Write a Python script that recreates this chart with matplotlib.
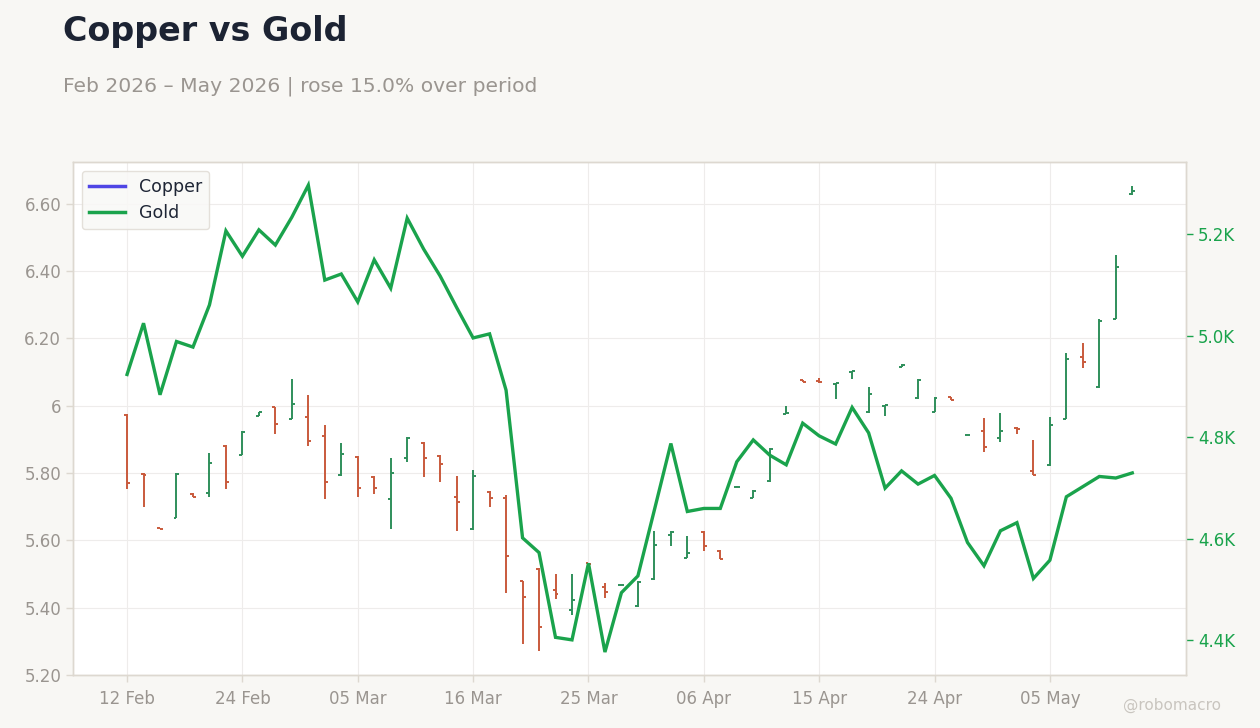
import matplotlib
matplotlib.use("Agg")
import matplotlib.pyplot as plt
from matplotlib.lines import Line2D
from matplotlib.ticker import FuncFormatter, FixedLocator
import numpy as np

# ---------------- data ----------------
copper_open = [5.973, 5.797, 5.636, 5.667, 5.738, 5.742, 5.881, 5.854, 5.970, 5.995,
               5.962, 5.968, 5.910, 5.793, 5.849, 5.788, 5.724, 5.846, 5.889, 5.852,
               5.730, 5.633, 5.743, 5.725, 5.479, 5.515, 5.453, 5.393, 5.532, 5.462,
               5.467, 5.405, 5.484, 5.616, 5.549, 5.626, 5.569, 5.760, 5.727, 5.776,
               5.977, 6.077, 6.075, 6.066, 6.101, 5.982, 5.999, 6.114, 6.023, 5.982,
               6.025, 5.913, 5.926, 5.905, 5.935, 5.807, 5.823, 5.962, 6.146, 6.055,
               6.259, 6.628]
copper_high = [5.975, 5.799, 5.637, 5.799, 5.740, 5.859, 5.884, 5.926, 5.982, 5.997,
               6.080, 6.032, 5.943, 5.889, 5.851, 5.791, 5.844, 5.906, 5.892, 5.854,
               5.791, 5.809, 5.748, 5.735, 5.480, 5.517, 5.500, 5.500, 5.534, 5.474,
               5.468, 5.480, 5.629, 5.629, 5.613, 5.628, 5.571, 5.761, 5.750, 5.874,
               5.999, 6.078, 6.083, 6.069, 6.104, 6.057, 6.002, 6.123, 6.080, 6.025,
               6.026, 5.914, 5.963, 5.978, 5.936, 5.898, 5.966, 6.158, 6.188, 6.257,
               6.447, 6.653]
copper_low = [5.752, 5.700, 5.633, 5.666, 5.728, 5.730, 5.752, 5.854, 5.970, 5.915,
              5.960, 5.881, 5.722, 5.791, 5.730, 5.737, 5.633, 5.832, 5.789, 5.774,
              5.629, 5.631, 5.700, 5.443, 5.291, 5.271, 5.425, 5.378, 5.528, 5.428,
              5.466, 5.403, 5.482, 5.583, 5.547, 5.569, 5.544, 5.759, 5.725, 5.774,
              5.976, 6.071, 6.069, 6.020, 6.079, 5.980, 5.971, 6.114, 6.021, 5.981,
              6.016, 5.912, 5.864, 5.893, 5.915, 5.793, 5.821, 5.960, 6.111, 6.053,
              6.259, 6.626]
copper_close = [5.771, 5.795, 5.634, 5.797, 5.729, 5.831, 5.774, 5.923, 5.981, 5.946,
                6.005, 5.895, 5.774, 5.856, 5.755, 5.757, 5.801, 5.905, 5.846, 5.826,
                5.715, 5.792, 5.727, 5.554, 5.433, 5.344, 5.441, 5.423, 5.529, 5.446,
                5.467, 5.477, 5.586, 5.626, 5.562, 5.583, 5.546, 5.760, 5.748, 5.872,
                5.979, 6.072, 6.072, 6.068, 6.103, 6.034, 6.001, 6.122, 6.078, 6.023,
                6.017, 5.913, 5.878, 5.926, 5.932, 5.794, 5.943, 6.138, 6.129, 6.251,
                6.413, 6.637]
gold = [4924, 5025, 4884, 4989, 4978, 5061, 5207, 5157, 5209, 5179,
        5234, 5297, 5110, 5122, 5067, 5150, 5094, 5232, 5171, 5118,
        5056, 4996, 5004, 4893, 4602, 4573, 4406, 4401, 4552, 4377,
        4494, 4527, 4657, 4788, 4654, 4660, 4660, 4752, 4795, 4765,
        4746, 4828, 4803, 4787, 4859, 4809, 4700, 4734, 4708, 4725,
        4680, 4593, 4547, 4616, 4632, 4522, 4558, 4683, 4703, 4723,
        4720, 4730]
tick_labels = ["12 Feb", "24 Feb", "05 Mar", "16 Mar", "25 Mar",
               "06 Apr", "15 Apr", "24 Apr", "05 May"]
tick_every = 7

# ---------------- style ----------------
BG = "#f8f7f4"
UP = "#2f8f5b"
DOWN = "#c95a3c"
GOLD = "#1aa34c"
COPPER = "#4f46e5"
SPINE = "#ddd8d0"
GRID = "#eeeceb"
TICKC = "#9a9590"

plt.rcParams["font.family"] = ["DejaVu Sans"]

fig = plt.figure(figsize=(12.6, 7.28), dpi=100, facecolor=BG)
ax = fig.add_axes([73 / 1260, 53 / 728, (1186 - 73) / 1260, (675 - 162) / 728])
ax.set_facecolor("white")

x = np.arange(len(copper_open))
o = np.array(copper_open)
h = np.array(copper_high)
l = np.array(copper_low)
c = np.array(copper_close)
colors = [UP if cc >= oo else DOWN for oo, cc in zip(o, c)]
tw = 0.18
ax.vlines(x, l, h, colors=colors, lw=1.4, zorder=3)
ax.hlines(o, x - tw, x, colors=colors, lw=1.4, zorder=3)
ax.hlines(c, x, x + tw, colors=colors, lw=1.4, zorder=3)

ax.set_xlim(-3.28, 64.26)
ax.set_ylim(5.20, 6.7245)
ax.yaxis.set_major_locator(FixedLocator([5.2, 5.4, 5.6, 5.8, 6.0, 6.2, 6.4, 6.6]))

def left_fmt(v, pos):
    if abs(v - round(v)) < 1e-9:
        return f"{int(round(v))}"
    return f"{v:.2f}"

ax.yaxis.set_major_formatter(FuncFormatter(left_fmt))
tick_pos = [i * tick_every for i in range(len(tick_labels))]
ax.set_xticks(tick_pos)
ax.set_xticklabels(tick_labels)
ax.grid(True, color=GRID, lw=0.8, zorder=0)
ax.set_axisbelow(True)
ax.tick_params(axis="both", colors=SPINE, labelcolor=TICKC, labelsize=12, length=5, width=1)
ax.tick_params(axis="x", pad=6)
for s in ax.spines.values():
    s.set_color(SPINE)
    s.set_linewidth(1)

ax2 = ax.twinx()
ax2.plot(x, gold, color=GOLD, lw=2.4, zorder=4, solid_joinstyle="miter")
ax2.set_ylim(4331.8, 5342.7)
ax2.yaxis.set_major_locator(FixedLocator([4400, 4600, 4800, 5000, 5200]))
ax2.yaxis.set_major_formatter(FuncFormatter(lambda v, p: f"{v/1000:.1f}K"))
ax2.tick_params(axis="y", colors=GOLD, labelcolor=GOLD, labelsize=12, length=5, width=1)
for s in ax2.spines.values():
    s.set_color(SPINE)
    s.set_linewidth(1)

handles = [Line2D([0], [0], color=COPPER, lw=2.5), Line2D([0], [0], color=GOLD, lw=2.5)]
leg = ax2.legend(handles, ["Copper", "Gold"], loc="upper left", fontsize=12.5,
                 frameon=True, fancybox=True, framealpha=0.85, facecolor="#f9f8f6",
                 edgecolor="#e0dcd5", borderpad=0.4, handlelength=2.1,
                 bbox_to_anchor=(0.0, 1.0))
for t in leg.get_texts():
    t.set_color("#1e2535")

fig.text(63 / 1260, 1 - 31 / 728, "Copper vs Gold", fontsize=24, fontweight="bold",
         color="#1c2333", ha="left", va="center")
fig.text(63 / 1260, 1 - 86 / 728, "Feb 2026 \u2013 May 2026 | rose 15.0% over period",
         fontsize=14.6, color="#9a9590", ha="left", va="center")
fig.text(1172 / 1260, 1 - 705 / 728, "@robomacro", fontsize=11, color="#c9c5bf",
         ha="center", va="center")

fig.savefig("out.png", dpi=100, facecolor=BG)
